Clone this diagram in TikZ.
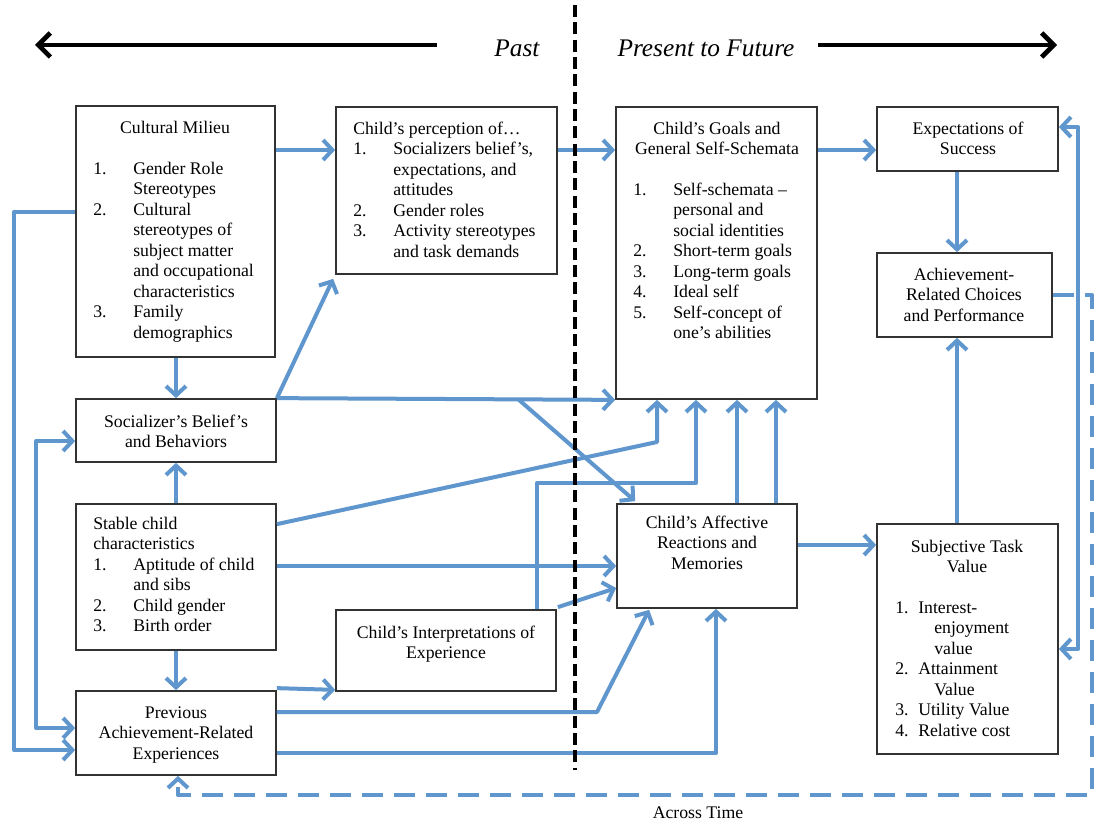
\documentclass[tikz,border=0pt]{standalone}
\usepackage{fontspec}
\setmainfont{Liberation Serif}
\usetikzlibrary{arrows.meta,calc,fit}
\definecolor{linkblue}{RGB}{95,150,205}
\definecolor{boxline}{RGB}{50,50,50}

% centred stack of lines, baseline at the first line
\newcommand\stackc[1]{\begin{tabular}[t]{@{}c@{}}#1\end{tabular}}
% numbered list: number column, then item text
\newcommand\numlist[2][30pt]{\begin{tabular}[t]{@{}p{#1}@{}l@{}}#2\end{tabular}}

\begin{document}
\begin{tikzpicture}[x=0.75pt,y=-0.75pt,
  every node/.style={inner sep=0pt, font=\fontsize{13.3}{15.4}\selectfont},
  box/.style={draw=boxline, line width=1.3pt},
  conn/.style={draw=linkblue, line width=3pt, line join=round},
  arr/.style={conn, -{Straight Barb[length=7pt,width=15pt]}},
  biarr/.style={conn, {Straight Barb[length=7pt,width=15pt]}-{Straight Barb[length=7pt,width=15pt]}},
  timeline/.style={draw=black, line width=3.5pt, -{Straight Barb[length=9pt,width=18pt]}},
  divider/.style={draw=black, line width=3pt, dash pattern=on 9pt off 4pt},
  acrosstime/.style={conn, dash pattern=on 16pt off 8pt, -{Straight Barb[length=7pt,width=15pt]}},
  timelbl/.style={font=\fontsize{19}{22}\selectfont\itshape}]

\fill[white] (0,0) rectangle (1095,824);
\useasboundingbox (0,0) rectangle (1095,824);

% ---- boxes ----
\node[box, fit={(76,106) (275,357)}] (cult) {};
\node[box, fit={(336,107) (557,274)}] (persp) {};
\node[box, fit={(616,107) (817,399)}] (goals) {};
\node[box, fit={(877,107) (1058,171)}] (expect) {};
\node[box, fit={(877,253) (1052,337)}] (choice) {};
\node[box, fit={(76,399) (276,462)}] (soc) {};
\node[box, fit={(76,504) (276,650)}] (stable) {};
\node[box, fit={(336,610) (556,691)}] (interp) {};
\node[box, fit={(617,504) (797,608)}] (aff) {};
\node[box, fit={(877,524) (1058,754)}] (stv) {};
\node[box, fit={(76,691) (276,775)}] (prev) {};

% ---- box texts ----
\node[anchor=base] (cultT) at (175,133) {Cultural Milieu};
\node[anchor=base west] (cultL) at (93,174) {\numlist{1.&Gender Role\\ &Stereotypes\\ 2.&Cultural\\ &stereotypes of\\ &subject matter\\ &and occupational\\ &characteristics\\ 3.&Family\\ &demographics}};

\node[anchor=base west] (perspL) at (353,134) {\numlist{\multicolumn{2}{@{}l@{}}{Child’s perception of…}\\ 1.&Socializers belief’s,\\ &expectations, and\\ &attitudes\\ 2.&Gender roles\\ 3.&Activity stereotypes\\ &and task demands}};

\node[anchor=base] (goalsT) at (717,134) {\stackc{Child’s Goals and\\General Self-Schemata}};
\node[anchor=base west] (goalsL) at (633,195) {\numlist{1.&Self-schemata –\\ &personal and\\ &social identities\\ 2.&Short-term goals\\ 3.&Long-term goals\\ 4.&Ideal self\\ 5.&Self-concept of\\ &one’s abilities}};

\node[anchor=base] (expectT) at (968,134) {\stackc{Expectations of\\Success}};
\node[anchor=base] (choiceT) at (964,280) {\stackc{Achievement-\\Related Choices\\and Performance}};
\node[anchor=base] (socT) at (176,427) {\stackc{Socializer’s Belief’s\\and Behaviors}};

\node[anchor=base west] (stableL) at (93,529) {\numlist{\multicolumn{2}{@{}l@{}}{Stable child}\\ \multicolumn{2}{@{}l@{}}{characteristics}\\ 1.&Aptitude of child\\ &and sibs\\ 2.&Child gender\\ 3.&Birth order}};

\node[anchor=base] (interpT) at (446,638) {\stackc{Child’s Interpretations of\\Experience}};
\node[anchor=base] (affT) at (707,528) {\stackc{Child’s Affective\\Reactions and\\Memories}};

\node[anchor=base] (stvT) at (967,552) {\stackc{Subjective Task\\Value}};
\node[anchor=base west] (stvL) at (895,613) {\numlist[17.25pt]{1.&Interest-\\ &\hspace{12pt}enjoyment\\ &\hspace{12pt}value\\ 2.&Attainment\\ &\hspace{12pt}Value\\ 3.&Utility Value\\ 4.&Relative cost}};

\node[anchor=base] (prevT) at (176,718) {\stackc{Previous\\Achievement-Related\\Experiences}};

% ---- time axis ----
\node[timelbl, anchor=base] (past) at (517,57) {Past};
\node[timelbl, anchor=base] (future) at (706,57) {Present to Future};
\coordinate (pastTail) at (437,45);
\coordinate (pastHead) at (35,45);
\coordinate (futureTail) at (818,45);
\coordinate (futureHead) at (1057,45);
\draw[timeline] (pastTail) -- (pastHead);
\draw[timeline] (futureTail) -- (futureHead);

\node[anchor=base] (across) at (698,818) {Across Time};

% ---- connectors ----
\draw[arr] (cult.east |- 0,150) -- (persp.west |- 0,150);
\draw[arr] (persp.east |- 0,150) -- (goals.west |- 0,150);
\draw[arr] (goals.east |- 0,150) -- (expect.west |- 0,150);
\draw[arr] (expect.south -| 957,0) -- (choice.north -| 957,0);
\draw[arr] (stv.north -| 957,0) -- (choice.south -| 957,0);
\draw[arr] (aff.east |- 0,545) -- (stv.west |- 0,545);

\draw[arr] (cult.south -| 176,0) -- (soc.north -| 176,0);
\draw[arr] (stable.north -| 176,0) -- (soc.south -| 176,0);
\draw[arr] (stable.south -| 176,0) -- (prev.north -| 176,0);

\draw[arr] (cult.west |- 0,212) -- ++(-61,0) |- (prev.west |- 0,750);
\draw[biarr] (soc.west |- 0,441) -- ++(-39,0) |- (prev.west |- 0,728);

\draw[arr] (soc.north east) -- ($(persp.south west)+(-2,4)$);
\draw[arr] (soc.north east) -- (goals.south west);
\draw[arr] ($(soc.north east)!0.714!(goals.south west)$) -- ($(aff.north west)+(19,-2)$);

\draw[arr] ($(stable.north east)+(0,21)$) -- (657,442) -- (goals.south -| 657,0);
\draw[arr] (stable.east |- 0,566) -- (aff.west |- 0,566);

\draw[arr] (interp.north -| 537,0) |- (696,483) -- (goals.south -| 696,0);
\draw[arr] ($(interp.north east)+(1,-2)$) -- (aff.west |- 0,588);

\draw[arr] (aff.north -| 737,0) -- (goals.south -| 737,0);
\draw[arr] (aff.north -| 776,0) -- (goals.south -| 776,0);

\draw[arr] ($(prev.north east)+(0,-2)$) -- ($(interp.south west)+(0,-2)$);
\draw[arr] (prev.east |- 0,712) -- (597,712) -- ($(aff.south west)+(33,1)$);
\draw[arr] (prev.east |- 0,753) -| (aff.south -| 716,0);

\draw[biarr] (expect.east |- 0,127) -- ++(19,0) |- (stv.east |- 0,649);

\draw[acrosstime] (choice.east |- 0,295) -- (1092,295) -- (1092,795) -| (prev.south -| 178,0);

% ---- past / present divider ----
\coordinate (divTop) at (575,5);
\coordinate (divBot) at (575,770);
\draw[divider] (divTop) -- (divBot);

\end{tikzpicture}
\end{document}
